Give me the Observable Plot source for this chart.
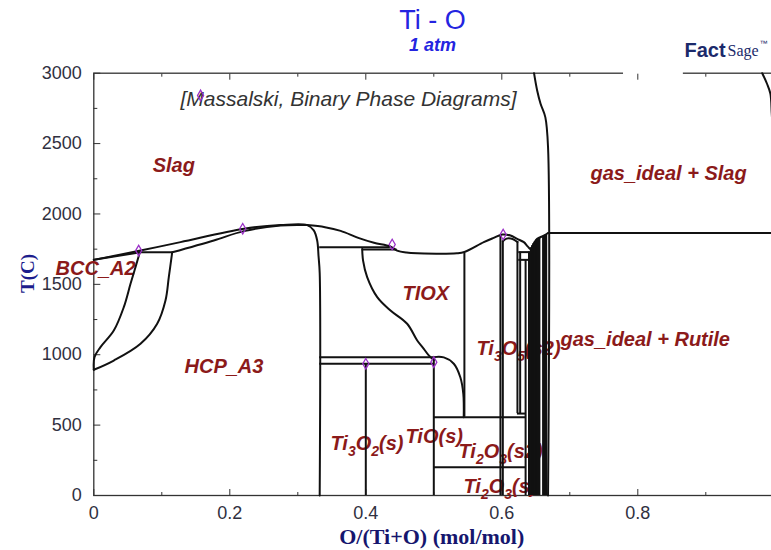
<!DOCTYPE html>
<html><head><meta charset="utf-8">
<script src="https://cdn.jsdelivr.net/npm/d3@7"></script>
<script src="https://cdn.jsdelivr.net/npm/@observablehq/plot@0.6"></script>
<style>html,body{margin:0;padding:0;background:#fff;overflow:hidden}#chart{width:771px;height:550px}</style>
</head><body><div id="chart"></div>
<script>
// ---- axis ticks ----
const xTicks = [0, 0.2, 0.4, 0.6, 0.8];
const xMinorTicks = [0.1, 0.3, 0.5, 0.7, 0.9];
const yTicks = [0, 500, 1000, 1500, 2000, 2500, 3000];
const yMinorTicks = [250, 750, 1250, 1750, 2250, 2750];

// ---- phase boundary curves [O/(Ti+O), T(C)] ----
const liquidusLeft = [[0,1674],[0.0687,1740],[0.1275,1800],[0.221,1895],[0.2746,1921],[0.3138,1921],[0.3235,1883],[0.3285,1811],[0.3305,1700],[0.3322,1580],[0.3322,0]];
const liquidusRight = [[0.3138,1921],[0.34,1906],[0.363,1880],[0.39,1828],[0.412,1795],[0.436,1769],[0.446,1740],[0.46,1726],[0.4756,1721],[0.534,1721],[0.545,1730],[0.5735,1800],[0.588,1830],[0.6006,1854],[0.6128,1847],[0.6226,1823],[0.6324,1800],[0.638,1770],[0.642,1752],[0.6475,1795],[0.652,1823],[0.662,1847],[0.668,1865]];
const bccSolidus = [[0,1674],[0.0687,1728]];
const hcpSolidus = [[0.1153,1728],[0.1765,1812],[0.2206,1878],[0.2746,1918],[0.3138,1921]];
const bccTransus = [[0,893],[0.001,983],[0.0098,1054],[0.0294,1172],[0.0441,1338],[0.054,1504],[0.0613,1622],[0.0677,1728]];
const hcpTransus = [[0,893],[0.0294,959],[0.0687,1078],[0.0932,1220],[0.1054,1385],[0.1103,1551],[0.1153,1728]];
const tioxLeft = [[0.3947,1752],[0.396,1669],[0.402,1551],[0.4168,1409],[0.4363,1314],[0.4608,1220],[0.4756,1101],[0.4853,1042],[0.4926,995],[0.5,962]];
const tioxRight = [[0.5,983],[0.5147,981],[0.5294,936],[0.539,840],[0.5434,722],[0.544,556]];
const ti2o3Dome = [[0.6015,1806],[0.607,1825],[0.613,1826],[0.619,1815],[0.623,1800]];
const gasSlagBoundary = [[0.6474,3000],[0.652,2877],[0.657,2783],[0.664,2688],[0.668,2474],[0.668,0]];
const gasEdge = [[0.983,3000],[0.990,2925],[0.995,2854],[0.997,2712],[0.999,2550]];
const curves = [liquidusLeft, liquidusRight, bccSolidus, hcpSolidus, bccTransus, hcpTransus, tioxLeft, tioxRight, ti2o3Dome, gasSlagBoundary, gasEdge];

// ---- vertical phase lines (composition, from T, to T) ----
const vertX    = [0.4, 0.5, 0.545, 0.598, 0.6015, 0.623, 0.627, 0.635, 0.640];
const vertFrom = [0,   0,   556,   0,     0,      582,   582,   0,     0];
const vertTo   = [936, 983, 1721,  1848,  1806,   1805,  1729,  1674,  1729];
// Magneli phase bands
const bandX   = [0.643, 0.645, 0.647, 0.649, 0.651, 0.653, 0.655, 0.661, 0.663, 0.665];
const bandTop = [1760, 1775, 1790, 1803, 1813, 1820, 1828, 1843, 1849, 1855];

// ---- horizontal invariant lines ----
const horX1 = [0.0687, 0.3322, 0.3947, 0.3322, 0.3322, 0.5,  0.5,  0.623, 0.625, 0.625, 0.668];
const horX2 = [0.1153, 0.436,  0.446,  0.5,    0.5,    0.635, 0.635, 0.635, 0.642, 0.642, 1];
const horT  = [1728,   1764,   1748,   983,    936,    556,  200,  582,   1729,  1674,  1865];

// ---- data points (diamonds) ----
const pointX = [0.066, 0.219, 0.4388, 0.4, 0.5, 0.602, 0.157];
const pointT = [1740, 1895, 1783, 936, 947, 1854, 2842];

// ---- region labels ----
const labelText = ["Slag", "BCC_A2", "HCP_A3", "TIOX", "Ti₃O₅(s2)", "gas_ideal + Rutile", "gas_ideal + Slag", "Ti₃O₂(s)", "TiO(s)", "Ti₂O₃(s2)", "Ti₂O₃(s)"];
const labelX = [0.0866, -0.0563, 0.1334, 0.454, 0.5628, 0.6863, 0.7304, 0.3481, 0.4584, 0.5363, 0.5437];
const labelT = [2344, 1613, 916, 1435, 1044, 1108, 2287, 369, 419, 313, 64];

const sourceNote = ["[Massalski, Binary Phase Diagrams]"];
const titleText = ["Ti - O"];
const subtitleText = ["1 atm"];
const xTitle = ["O/(Ti+O) (mol/mol)"];
const yTitle = ["T(C)"];
const logoMask = [{x1: 0.779, x2: 0.867, y1: 2980, y2: 3030}];

const verts = vertX.map((x, i) => ({x, t1: vertFrom[i], t2: vertTo[i]}));
const bands = bandX.map((x, i) => ({x, t2: bandTop[i]}));
const hors = horT.map((t, i) => ({t, x1: horX1[i], x2: horX2[i]}));
const points = pointX.map((x, i) => ({x, t: pointT[i]}));
const labels = labelText.map((text, i) => ({text, x: labelX[i], t: labelT[i]}));

const sans = "'Liberation Sans', Arial, sans-serif";
const serif = "'Liberation Serif', 'Times New Roman', serif";
const lineColor = "#111";

const plot = Plot.plot({
  width: 771, height: 550,
  marginTop: 72.7, marginBottom: 55, marginLeft: 93.3, marginRight: -2.3,
  x: {domain: [0, 1]},
  y: {domain: [0, 3000]},
  style: {fontFamily: sans, background: "white"},
  marks: [
    Plot.frame({stroke: "#333", strokeWidth: 1.3}),
    Plot.rect(logoMask, {x1: "x1", x2: "x2", y1: "y1", y2: "y2", fill: "white"}),
    Plot.axisY({ticks: yTicks, tickSize: 0, tickPadding: 12, fontSize: 18, fill: "#303040", label: null, tickFormat: d => String(d)}),
    Plot.axisY({ticks: yTicks, tickSize: -7, text: null, label: null, stroke: "#333"}),
    Plot.axisY({ticks: yMinorTicks, tickSize: -4, text: null, label: null, stroke: "#333"}),
    Plot.axisX({ticks: xTicks, tickSize: 0, tickPadding: 11, fontSize: 18, fill: "#303040", label: null, tickFormat: d => String(d)}),
    Plot.axisX({ticks: xTicks, tickSize: -6, text: null, label: null, stroke: "#333"}),
    Plot.axisX({ticks: xMinorTicks, tickSize: -3, text: null, label: null, stroke: "#333"}),
    Plot.axisX({ticks: xTicks, anchor: "top", tickSize: -6, text: null, label: null, stroke: "#333"}),
    Plot.axisX({ticks: xMinorTicks, anchor: "top", tickSize: -3, text: null, label: null, stroke: "#333"}),
    // region labels
    Plot.text(labels, {x: "x", y: "t", text: "text", textAnchor: "start", fill: "#8b1a1a", fontSize: 20, fontWeight: "bold", fontStyle: "italic"}),
    Plot.text(sourceNote, {x: [0.1275], y: [2813], text: d => d, textAnchor: "start", fill: "#333", fontSize: 21, fontStyle: "italic"}),
    // phase boundaries
    ...curves.map(c => Plot.line(c, {stroke: lineColor, strokeWidth: 2, curve: "catmull-rom"})),
    Plot.ruleX(verts, {x: "x", y1: "t1", y2: "t2", stroke: lineColor, strokeWidth: 2}),
    Plot.ruleX(bands, {x: "x", y1: 0, y2: "t2", stroke: lineColor, strokeWidth: 2.4}),
    Plot.ruleY(hors, {y: "t", x1: "x1", x2: "x2", stroke: lineColor, strokeWidth: 2}),
    Plot.dot(points, {x: "x", y: "t", symbol: "diamond", r: 3.2, stroke: "#9b30c8", strokeWidth: 1.3, fill: "none"}),
    // titles
    Plot.text(titleText, {x: [0.498], y: [3374], text: d => d, fill: "#2424e0", fontSize: 27}),
    Plot.text(subtitleText, {x: [0.498], y: [3197], text: d => d, fill: "#2424e0", fontSize: 18, fontWeight: "bold", fontStyle: "italic"}),
    Plot.text(xTitle, {x: [0.497], y: [-298], text: d => d, fill: "#16166e", fontSize: 22, fontWeight: "bold", fontFamily: serif}),
    Plot.text(yTitle, {x: [-0.0975], y: [1577], text: d => d, rotate: -90, fill: "#1c1c8c", fontSize: 19, fontWeight: "bold", fontFamily: serif}),
    // FactSage logo
    Plot.text(["Fact"], {x: [0.8687], y: [3161], text: d => d, textAnchor: "start", fill: "#1b2a6b", fontSize: 20, fontWeight: 900, letterSpacing: -0.5}),
    Plot.text(["Sage"], {x: [0.9319], y: [3161], text: d => d, textAnchor: "start", fill: "#1b2a6b", fontSize: 16, fontFamily: serif}),
    Plot.text(["™"], {x: [0.979], y: [3214], text: d => d, textAnchor: "start", fill: "#1b2a6b", fontSize: 8})
  ]
});

// render chemical subscripts as lowered, smaller tspans
const subMap = {"₀":"0","₁":"1","₂":"2","₃":"3","₄":"4","₅":"5","₆":"6","₇":"7","₈":"8","₉":"9"};
d3.select(plot).selectAll("text").each(function() {
  const t = this.textContent;
  if (!/[₀-₉]/.test(t)) return;
  const runs = [];
  for (const ch of t) {
    const s = ch in subMap;
    const c = s ? subMap[ch] : ch;
    if (runs.length && runs[runs.length - 1].s === s) runs[runs.length - 1].t += c;
    else runs.push({s, t: c});
  }
  const el = d3.select(this);
  el.text(null);
  let down = false;
  for (const r of runs) {
    const ts = el.append("tspan").text(r.t);
    if (r.s) { ts.attr("font-size", 14).attr("dy", down ? 0 : 6); down = true; }
    else if (down) { ts.attr("dy", -6); down = false; }
  }
});

document.getElementById("chart").append(plot);
</script></body></html>
